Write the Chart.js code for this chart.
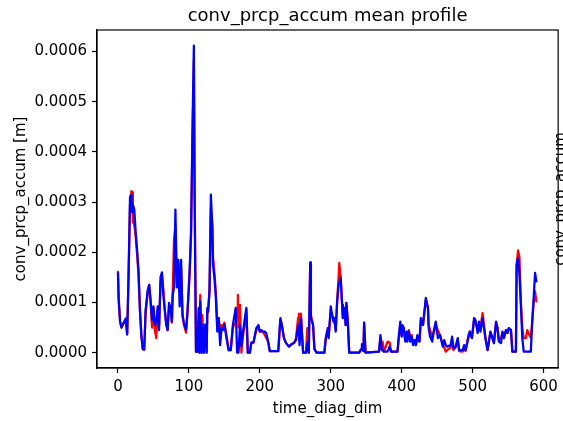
<!DOCTYPE html>
<html>
<head>
<meta charset="utf-8">
<script src="https://cdn.jsdelivr.net/npm/chart.js@4.4.1/dist/chart.umd.min.js"></script>
<style>
  html, body { margin: 0; padding: 0; background: #fff; }
  canvas { display: block; }
</style>
</head>
<body>
<canvas id="profileChart" width="563" height="421"></canvas>
<script>
const chartTitle = 'conv_prcp_accum mean profile';
const xLabel = 'time_diag_dim';
const yLabel = 'conv_prcp_accum [m]';
const rightLabel = 'conv_prcp_accum';

const timeSteps = [
  0, 1, 3, 5, 8, 11, 13, 15, 17, 19, 20, 21, 23, 25, 27, 29, 31, 33, 35, 37,
  39, 42, 44, 46, 48, 50, 52, 54, 56, 58, 60, 62, 64, 66, 68, 70, 72, 74, 76, 77,
  79, 81, 83, 85, 87, 89, 91, 93, 96, 98, 101, 103, 105, 107, 108, 110, 112, 114, 115, 116,
  118, 119, 121, 123, 125, 126, 127, 129, 131, 133, 134, 136, 138, 140, 142, 144, 146, 148, 150, 153,
  156, 159, 162, 166, 168, 169, 170, 172, 174, 176, 179, 181, 183, 186, 188, 191, 195, 198, 200, 202,
  205, 207, 209, 212, 214, 226, 228, 229, 231, 234, 237, 241, 244, 248, 251, 254, 255, 256, 258, 261,
  265, 267, 269, 271, 272, 275, 277, 280, 291, 293, 296, 297, 300, 301, 304, 305, 307, 309, 311, 312,
  314, 316, 317, 319, 321, 322, 324, 326, 340, 343, 344, 346, 347, 349, 368, 370, 372, 373, 375, 380,
  383, 385, 394, 396, 398, 400, 401, 403, 405, 407, 408, 410, 412, 414, 416, 418, 420, 422, 425, 427,
  430, 432, 434, 437, 438, 440, 443, 445, 448, 451, 454, 458, 460, 462, 464, 469, 471, 473, 476, 479,
  481, 486, 488, 490, 494, 496, 499, 502, 504, 507, 509, 511, 514, 516, 518, 521, 523, 525, 528, 530,
  533, 535, 537, 540, 542, 544, 547, 549, 551, 554, 556, 561, 562, 564, 566, 568, 570, 572, 575, 577,
  580, 582, 584, 586, 588, 590
];

// blue profile [m]
const blueProfile = [
  1.60e-4, 1.05e-4, 0.62e-4, 0.50e-4, 0.59e-4, 0.68e-4, 0.36e-4, 1.60e-4, 3.10e-4, 3.15e-4, 2.80e-4, 2.95e-4, 2.85e-4, 2.40e-4, 2.05e-4, 1.62e-4, 0.85e-4, 0.33e-4, 0.07e-4, 0.06e-4,
  0.85e-4, 1.25e-4, 1.35e-4, 1.05e-4, 0.65e-4, 0.92e-4, 0.55e-4, 0.60e-4, 0.92e-4, 0.45e-4, 1.50e-4, 1.60e-4, 1.15e-4, 0.85e-4, 0.55e-4, 0.45e-4, 0.99e-4, 0.90e-4, 0.62e-4, 1.12e-4,
  1.30e-4, 2.85e-4, 1.30e-4, 1.85e-4, 0.92e-4, 1.85e-4, 0.72e-4, 0.59e-4, 0.46e-4, 0.82e-4, 1.62e-4, 2.42e-4, 4.40e-4, 6.12e-4, 3.10e-4, 0.02e-4, 0.02e-4, 0.89e-4, 0.00e-4, 1.02e-4,
  0.00e-4, 0.56e-4, 0.00e-4, 0.56e-4, 0.00e-4, 0.89e-4, 0.82e-4, 1.22e-4, 3.15e-4, 2.49e-4, 1.75e-4, 1.49e-4, 1.09e-4, 0.42e-4, 0.69e-4, 0.15e-4, 0.49e-4, 0.45e-4, 0.56e-4, 0.29e-4,
  0.05e-4, 0.05e-4, 0.55e-4, 0.89e-4, 0.00e-4, 0.00e-4, 0.00e-4, 0.55e-4, 0.13e-4, 0.39e-4, 0.69e-4, 0.89e-4, 0.00e-4, 0.00e-4, 0.20e-4, 0.20e-4, 0.49e-4, 0.55e-4, 0.42e-4, 0.45e-4,
  0.42e-4, 0.42e-4, 0.39e-4, 0.20e-4, 0.03e-4, 0.03e-4, 0.49e-4, 0.69e-4, 0.55e-4, 0.29e-4, 0.19e-4, 0.12e-4, 0.16e-4, 0.19e-4, 0.25e-4, 0.55e-4, 0.40e-4, 0.15e-4, 0.69e-4, 0.00e-4,
  0.00e-4, 0.20e-4, 0.00e-4, 1.80e-4, 0.69e-4, 0.55e-4, 0.07e-4, 0.00e-4, 0.00e-4, 0.29e-4, 0.49e-4, 0.29e-4, 0.92e-4, 0.82e-4, 0.62e-4, 0.69e-4, 0.42e-4, 1.02e-4, 1.35e-4, 1.40e-4,
  1.49e-4, 0.95e-4, 0.69e-4, 0.89e-4, 0.55e-4, 0.99e-4, 0.62e-4, 0.00e-4, 0.00e-4, 0.07e-4, 0.17e-4, 0.03e-4, 0.60e-4, 0.00e-4, 0.02e-4, 0.35e-4, 0.05e-4, 0.05e-4, 0.02e-4, 0.02e-4,
  0.12e-4, 0.02e-4, 0.02e-4, 0.35e-4, 0.62e-4, 0.32e-4, 0.55e-4, 0.49e-4, 0.22e-4, 0.42e-4, 0.22e-4, 0.42e-4, 0.22e-4, 0.32e-4, 0.15e-4, 0.25e-4, 0.15e-4, 0.35e-4, 0.22e-4, 0.69e-4,
  0.55e-4, 0.82e-4, 1.09e-4, 0.89e-4, 0.49e-4, 0.32e-4, 0.22e-4, 0.42e-4, 0.62e-4, 0.29e-4, 0.35e-4, 0.12e-4, 0.25e-4, 0.15e-4, 0.12e-4, 0.15e-4, 0.32e-4, 0.09e-4, 0.12e-4, 0.29e-4,
  0.05e-4, 0.05e-4, 0.15e-4, 0.05e-4, 0.29e-4, 0.42e-4, 0.29e-4, 0.69e-4, 0.65e-4, 0.39e-4, 0.62e-4, 0.42e-4, 0.69e-4, 0.49e-4, 0.29e-4, 0.05e-4, 0.22e-4, 0.42e-4, 0.29e-4, 0.19e-4,
  0.62e-4, 0.49e-4, 0.22e-4, 0.19e-4, 0.42e-4, 0.29e-4, 0.45e-4, 0.39e-4, 0.49e-4, 0.45e-4, 0.02e-4, 0.02e-4, 1.75e-4, 1.89e-4, 1.55e-4, 0.95e-4, 0.29e-4, 0.02e-4, 0.02e-4, 0.02e-4,
  0.02e-4, 0.02e-4, 0.62e-4, 1.09e-4, 1.59e-4, 1.40e-4
];

// red profile [m]
const redProfile = [
  1.63e-4, 1.10e-4, 0.62e-4, 0.50e-4, 0.59e-4, 0.65e-4, 0.38e-4, 1.55e-4, 2.95e-4, 3.22e-4, 3.20e-4, 2.60e-4, 2.55e-4, 2.30e-4, 1.95e-4, 1.55e-4, 0.85e-4, 0.35e-4, 0.07e-4, 0.06e-4,
  0.80e-4, 1.20e-4, 1.35e-4, 1.00e-4, 0.50e-4, 0.90e-4, 0.45e-4, 0.29e-4, 0.85e-4, 0.55e-4, 1.40e-4, 1.55e-4, 1.25e-4, 0.85e-4, 0.60e-4, 0.45e-4, 0.95e-4, 0.92e-4, 0.60e-4, 1.10e-4,
  2.25e-4, 2.50e-4, 1.40e-4, 1.80e-4, 1.20e-4, 1.70e-4, 0.80e-4, 0.55e-4, 0.40e-4, 0.78e-4, 1.55e-4, 2.30e-4, 4.20e-4, 5.82e-4, 3.50e-4, 0.02e-4, 0.02e-4, 0.89e-4, 0.00e-4, 1.15e-4,
  0.00e-4, 0.75e-4, 0.00e-4, 0.56e-4, 0.00e-4, 0.85e-4, 0.80e-4, 1.20e-4, 2.90e-4, 2.55e-4, 1.90e-4, 1.60e-4, 1.20e-4, 0.60e-4, 0.69e-4, 0.45e-4, 0.55e-4, 0.50e-4, 0.60e-4, 0.35e-4,
  0.05e-4, 0.05e-4, 0.50e-4, 0.60e-4, 0.90e-4, 1.15e-4, 0.50e-4, 0.95e-4, 0.00e-4, 0.30e-4, 0.60e-4, 0.85e-4, 0.00e-4, 0.00e-4, 0.20e-4, 0.20e-4, 0.45e-4, 0.50e-4, 0.42e-4, 0.42e-4,
  0.40e-4, 0.35e-4, 0.30e-4, 0.20e-4, 0.03e-4, 0.03e-4, 0.45e-4, 0.65e-4, 0.55e-4, 0.29e-4, 0.19e-4, 0.12e-4, 0.16e-4, 0.19e-4, 0.29e-4, 0.70e-4, 0.78e-4, 0.50e-4, 0.78e-4, 0.00e-4,
  0.00e-4, 0.49e-4, 0.00e-4, 1.75e-4, 0.75e-4, 0.55e-4, 0.07e-4, 0.00e-4, 0.00e-4, 0.29e-4, 0.49e-4, 0.32e-4, 0.85e-4, 0.80e-4, 0.62e-4, 0.65e-4, 0.45e-4, 1.05e-4, 1.50e-4, 1.79e-4,
  1.50e-4, 0.95e-4, 0.69e-4, 0.89e-4, 0.55e-4, 0.99e-4, 0.62e-4, 0.00e-4, 0.00e-4, 0.07e-4, 0.17e-4, 0.03e-4, 0.60e-4, 0.00e-4, 0.02e-4, 0.30e-4, 0.05e-4, 0.22e-4, 0.02e-4, 0.22e-4,
  0.20e-4, 0.02e-4, 0.02e-4, 0.30e-4, 0.55e-4, 0.35e-4, 0.50e-4, 0.45e-4, 0.25e-4, 0.40e-4, 0.30e-4, 0.45e-4, 0.30e-4, 0.35e-4, 0.20e-4, 0.25e-4, 0.15e-4, 0.30e-4, 0.22e-4, 0.65e-4,
  0.55e-4, 0.80e-4, 1.05e-4, 0.89e-4, 0.55e-4, 0.45e-4, 0.30e-4, 0.40e-4, 0.55e-4, 0.45e-4, 0.35e-4, 0.15e-4, 0.10e-4, 0.02e-4, 0.05e-4, 0.10e-4, 0.25e-4, 0.05e-4, 0.10e-4, 0.25e-4,
  0.03e-4, 0.02e-4, 0.10e-4, 0.03e-4, 0.35e-4, 0.42e-4, 0.30e-4, 0.65e-4, 0.60e-4, 0.45e-4, 0.55e-4, 0.50e-4, 0.79e-4, 0.55e-4, 0.30e-4, 0.05e-4, 0.22e-4, 0.40e-4, 0.29e-4, 0.20e-4,
  0.60e-4, 0.49e-4, 0.25e-4, 0.29e-4, 0.40e-4, 0.29e-4, 0.45e-4, 0.39e-4, 0.49e-4, 0.45e-4, 0.02e-4, 0.02e-4, 1.75e-4, 2.04e-4, 1.90e-4, 1.00e-4, 0.50e-4, 0.29e-4, 0.29e-4, 0.45e-4,
  0.35e-4, 0.30e-4, 0.62e-4, 1.00e-4, 1.22e-4, 1.00e-4
];

const xTicks = [0, 100, 200, 300, 400, 500, 600];
const yTicks = [0, 0.0001, 0.0002, 0.0003, 0.0004, 0.0005, 0.0006];

const FONT = '"DejaVu Sans", "Liberation Sans", sans-serif';

function toPoints(values) {
  return values.map((v, i) => ({ x: timeSteps[i], y: v }));
}

// frame, title and axis labels drawn the matplotlib way
const framePlugin = {
  id: 'frame',
  afterDraw(chart) {
    const { ctx, chartArea } = chart;
    const { left, right, top, bottom } = chartArea;
    ctx.save();
    ctx.strokeStyle = '#000';
    ctx.lineWidth = 1.2;
    ctx.strokeRect(left, top, right - left, bottom - top);

    ctx.fillStyle = '#000';
    ctx.font = '18px ' + FONT;
    ctx.textAlign = 'center';
    ctx.textBaseline = 'alphabetic';
    ctx.fillText(chartTitle, (left + right) / 2, 21);

    ctx.font = '15px ' + FONT;
    ctx.fillText(xLabel, (left + right) / 2, 413);

    ctx.save();
    ctx.translate(25, (top + bottom) / 2);
    ctx.rotate(-Math.PI / 2);
    ctx.fillText(yLabel, 0, 0);
    ctx.restore();

    // second-axis label, partly outside the figure
    ctx.save();
    ctx.translate(565, (top + bottom) / 2);
    ctx.rotate(-Math.PI / 2);
    ctx.fillText(rightLabel, 0, 0);
    ctx.restore();

    ctx.restore();
  }
};

const axisStyle = {
  grid: { display: true, drawOnChartArea: false, drawTicks: true, tickLength: 5, tickColor: '#000', tickWidth: 1.2 },
  border: { display: true, color: '#000', width: 1.2 },
};

new Chart(document.getElementById('profileChart').getContext('2d'), {
  type: 'line',
  data: {
    datasets: [
      {
        label: 'blue',
        data: toPoints(blueProfile),
        borderColor: '#0000ff',
        borderWidth: 2.25,
        borderJoinStyle: 'round',
        pointRadius: 0,
        tension: 0,
        fill: false,
        order: 0
      },
      {
        label: 'red',
        data: toPoints(redProfile),
        borderColor: '#ff0000',
        borderWidth: 2.25,
        borderJoinStyle: 'round',
        pointRadius: 0,
        tension: 0,
        fill: false,
        order: 1
      }
    ]
  },
  options: {
    responsive: false,
    animation: false,
    devicePixelRatio: 1,
    layout: { padding: { top: 30, right: 3, left: 0, bottom: 0 } },
    plugins: {
      legend: { display: false },
      tooltip: { enabled: false }
    },
    scales: {
      x: {
        type: 'linear',
        min: -29.55,
        max: 620.55,
        ...axisStyle,
        afterBuildTicks(scale) { scale.ticks = xTicks.map(v => ({ value: v })); },
        afterFit(scale) { scale.height = 53; },
        ticks: {
          color: '#000',
          font: { family: FONT, size: 15 },
          padding: 5,
          maxRotation: 0,
          autoSkip: false,
          callback: v => String(v)
        }
      },
      y: {
        type: 'linear',
        min: -0.0000306,
        max: 0.000643,
        ...axisStyle,
        afterBuildTicks(scale) { scale.ticks = yTicks.map(v => ({ value: v })); },
        afterFit(scale) { scale.width = 97; },
        ticks: {
          color: '#000',
          font: { family: FONT, size: 15 },
          padding: 5,
          autoSkip: false,
          callback: v => v.toFixed(4)
        }
      }
    }
  },
  plugins: [framePlugin]
});
</script>
</body>
</html>
